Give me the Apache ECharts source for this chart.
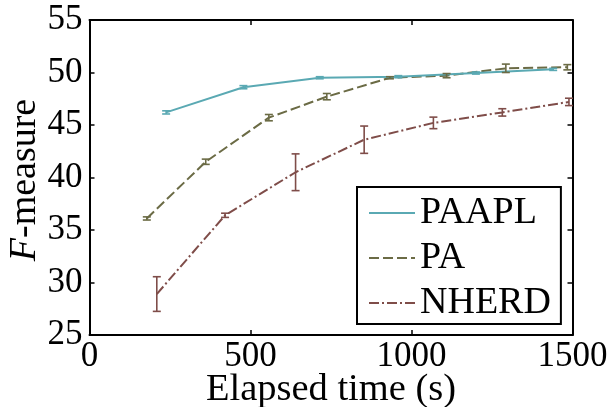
<!DOCTYPE html>
<html>
<head>
<meta charset="utf-8">
<script src="https://cdn.jsdelivr.net/npm/echarts@6/dist/echarts.min.js"></script>
<style>
  html, body { margin: 0; padding: 0; background: #fff; }
  #chart { width: 611px; height: 407px; }
</style>
</head>
<body>
<div id="chart"></div>
<script>
// Elapsed time (s) at each measurement, F-measure mean and error half-width
const paaplTime = [238, 478, 715, 959, 1200, 1440];
const paaplF    = [46.2, 48.6, 49.5, 49.6, 49.95, 50.3];
const paaplErr  = [0.15, 0.15, 0.1, 0.1, 0.1, 0.1];

const paTime = [178, 361, 557, 737, 933, 1109, 1293, 1484];
const paF    = [36.1, 41.5, 45.7, 47.7, 49.5, 49.7, 50.4, 50.5];
const paErr  = [0.15, 0.25, 0.3, 0.3, 0.1, 0.2, 0.4, 0.25];

const nherdTime = [209, 421, 640, 853, 1068, 1282, 1489];
const nherdF    = [28.9, 36.4, 40.5, 43.6, 45.2, 46.2, 47.2];
const nherdErr  = [1.65, 0.2, 1.75, 1.3, 0.55, 0.35, 0.35];

const xTicks = { min: 0, max: 1500, interval: 500 };
const yTicks = { min: 25, max: 55, interval: 5 };

const xTitle = 'Elapsed time (s)';
const yTitle = '{i|F}-measure';

const FONT = 'Liberation Serif';
const COLORS = { PAAPL: '#5aa9b3', PA: '#6b6b45', NHERD: '#7f4d49' };

const pairs = (xs, ys) => xs.map((x, i) => [x, ys[i]]);
const triples = (xs, ys, es) => xs.map((x, i) => [x, ys[i], es[i]]);

function errorBars(name, xs, ys, es, color) {
  return {
    name: name + ' error',
    type: 'custom',
    data: triples(xs, ys, es),
    encode: { x: 0, y: 1 },
    z: 3,
    silent: true,
    renderItem: function (params, api) {
      const x = api.value(0), y = api.value(1), e = api.value(2);
      const top = api.coord([x, y + e]);
      const bot = api.coord([x, y - e]);
      const hw = 4;
      const st = { stroke: color, lineWidth: 1.6 };
      return {
        type: 'group',
        children: [
          { type: 'line', shape: { x1: top[0], y1: top[1], x2: bot[0], y2: bot[1] }, style: st },
          { type: 'line', shape: { x1: top[0] - hw, y1: top[1], x2: top[0] + hw, y2: top[1] }, style: st },
          { type: 'line', shape: { x1: bot[0] - hw, y1: bot[1], x2: bot[0] + hw, y2: bot[1] }, style: st }
        ]
      };
    }
  };
}

function lineSeries(name, xs, ys, type, color) {
  return {
    name: name,
    type: 'line',
    data: pairs(xs, ys),
    symbol: 'none',
    z: 2,
    lineStyle: { color: color, width: 2, type: type },
    itemStyle: { color: color }
  };
}

const axisLine = { show: true, onZero: false, lineStyle: { color: '#000', width: 2 } };
const tickIn = { show: true, inside: true, length: 5, lineStyle: { color: '#000', width: 1.5 } };
const plainNumber = v => String(v);

const GRID = { left: 89.5, right: 38.5, top: 20, bottom: 72 };

const chart = echarts.init(document.getElementById('chart'), null, { renderer: 'canvas' });
chart.setOption({
  animation: false,
  backgroundColor: '#fff',
  grid: Object.assign({ containLabel: false, outerBoundsMode: 'none' }, GRID),
  xAxis: [
    {
      type: 'value', position: 'bottom',
      min: xTicks.min, max: xTicks.max, interval: xTicks.interval,
      axisLine: axisLine, axisTick: tickIn, splitLine: { show: false },
      axisLabel: { color: '#000', fontFamily: FONT, fontSize: 35, margin: 4, formatter: plainNumber }
    },
    {
      type: 'value', position: 'top',
      min: xTicks.min, max: xTicks.max, interval: xTicks.interval,
      axisLine: axisLine, axisTick: tickIn, splitLine: { show: false },
      axisLabel: { show: false }
    }
  ],
  yAxis: [
    {
      type: 'value', position: 'left',
      min: yTicks.min, max: yTicks.max, interval: yTicks.interval,
      axisLine: axisLine, axisTick: tickIn, splitLine: { show: false },
      axisLabel: { color: '#000', fontFamily: FONT, fontSize: 35, margin: 7, formatter: plainNumber }
    },
    {
      type: 'value', position: 'right',
      min: yTicks.min, max: yTicks.max, interval: yTicks.interval,
      axisLine: axisLine, axisTick: tickIn, splitLine: { show: false },
      axisLabel: { show: false }
    }
  ],
  // axis titles
  graphic: [
    {
      type: 'text', x: 331, y: 390,
      style: {
        text: xTitle, fill: '#000', fontFamily: FONT, fontSize: 38.5,
        align: 'center', verticalAlign: 'middle'
      }
    },
    {
      type: 'text', x: 25, y: 180, rotation: Math.PI / 2,
      style: {
        text: yTitle, fill: '#000', fontFamily: FONT, fontSize: 38,
        align: 'center', verticalAlign: 'middle',
        rich: { i: { fontStyle: 'italic', fontFamily: FONT, fontSize: 38, fill: '#000' } }
      }
    }
  ],
  legend: {
    data: ['PAAPL', 'PA', 'NHERD'],
    orient: 'vertical',
    left: 357, top: 187,
    padding: [7, 10, 2, 11],
    itemGap: 7,
    itemWidth: 46, itemHeight: 14,
    itemStyle: { opacity: 0 },
    borderColor: '#000', borderWidth: 2, borderRadius: 0,
    backgroundColor: '#fff',
    textStyle: { color: '#000', fontFamily: FONT, fontSize: 38, lineHeight: 35 }
  },
  series: [
    lineSeries('NHERD', nherdTime, nherdF, [10, 3, 2, 3], COLORS.NHERD),
    errorBars('NHERD', nherdTime, nherdF, nherdErr, COLORS.NHERD),
    lineSeries('PA', paTime, paF, [10, 4], COLORS.PA),
    errorBars('PA', paTime, paF, paErr, COLORS.PA),
    lineSeries('PAAPL', paaplTime, paaplF, 'solid', COLORS.PAAPL),
    errorBars('PAAPL', paaplTime, paaplF, paaplErr, COLORS.PAAPL)
  ]
});
</script>
</body>
</html>
